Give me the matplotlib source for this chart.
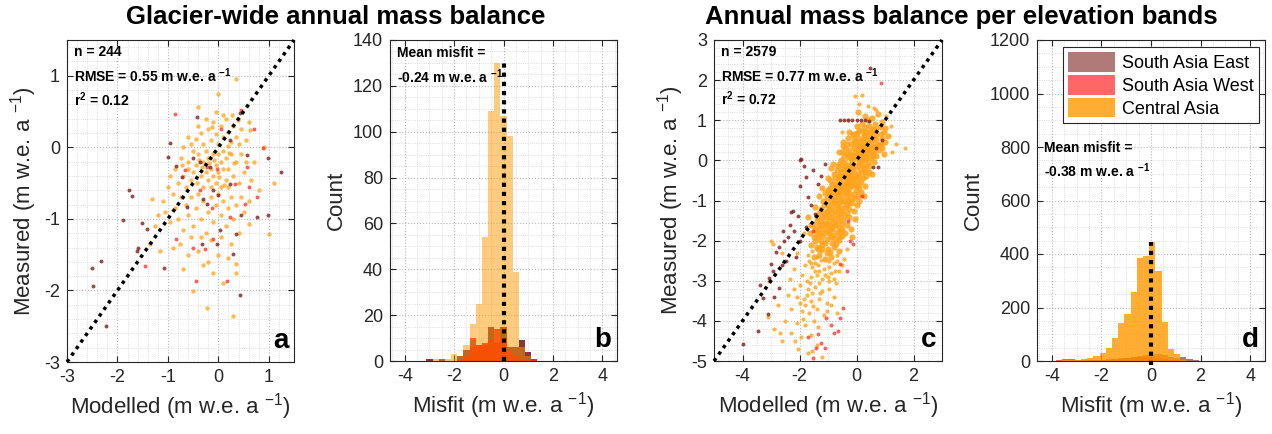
import numpy as np
import matplotlib
matplotlib.use('Agg')
import matplotlib.pyplot as plt
from matplotlib.ticker import MultipleLocator

plt.rcParams['font.family'] = ['Liberation Sans', 'DejaVu Sans']
plt.rcParams['mathtext.fontset'] = 'custom'
plt.rcParams['mathtext.rm'] = 'Liberation Sans'
plt.rcParams['mathtext.bf'] = 'Liberation Sans:bold'
plt.rcParams['mathtext.it'] = 'Liberation Sans:italic'
plt.rcParams['axes.unicode_minus'] = False

# ---------------- data ----------------
regions = ['South Asia East', 'South Asia West', 'Central Asia']

# panel a: glacier-wide (modelled, measured)
a_sae = [(-2.50,-1.68),(-2.48,-1.94),(-2.33,-1.59),(-2.23,-2.50),(-1.89,-1.01),(-1.77,-0.60),(-1.72,-0.68),
         (-1.62,-1.45),(-1.60,-1.40),(-1.52,-1.06),(-1.42,-1.14),(-1.07,-1.69),(-0.96,0.06),(-0.99,-0.13),
         (-0.83,-0.26),(-0.42,0.42),(-0.50,-0.15),(-0.36,-0.20),(-0.30,-0.72),(-0.23,-0.79),(-0.10,-0.60),
         (0.00,-0.67),(0.03,-1.16),(-0.03,-1.35),(-0.32,-1.35),(0.30,-1.49),(0.43,-2.06),(0.44,-0.95),
         (0.76,-0.98),(0.99,-0.95),(0.99,-0.15),(1.24,-0.34),(0.56,-0.11),(0.23,0.10),(0.43,0.48),
         (-0.17,-0.27),(-0.63,-0.84),(-0.73,-0.41),(0.23,-0.51),(0.36,-1.21)]
a_saw = [(-0.85,0.46),(-1.46,-1.66),(-0.44,-1.87),(0.17,-1.87),(-0.26,-1.42),(-0.50,-1.40),(-0.10,-1.28),
         (0.60,-0.55),(0.76,-0.69),(0.70,0.26),(0.89,-0.01),(0.45,0.52),(0.56,-0.27),(0.53,-0.79),
         (0.34,-0.51),(-0.03,-0.30),(-0.36,-0.60),(0.23,-0.98),(-0.23,-0.27),(-0.66,-0.32),(-0.83,-1.28),
         (0.05,0.25),(-0.12,-0.85)]
a_ca = [(-0.55,0.05),(-0.45,0.12),(-0.35,0.2),(-0.3,0.05),(-0.2,0.25),(-0.15,0.1),(-0.1,0.35),(-0.05,0.18),
        (0.0,0.05),(0.05,0.3),(0.1,0.15),(0.15,0.4),(0.2,0.22),(0.25,0.08),(0.3,0.3),(0.35,0.15),(0.4,0.05),
        (0.45,0.25),(-0.25,0.4),(-0.6,0.15),(-0.7,0.0),(-0.4,0.3),(0.1,0.45),(-0.05,0.5),(0.2,0.02),(0.55,0.1),
        (0.6,0.35),(-0.12,0.28),(0.28,0.45),(0.38,0.38),
        (-0.85,-0.3),(-0.8,-0.5),(-0.75,-0.15),(-0.7,-0.4),(-0.65,-0.55),(-0.6,-0.2),(-0.55,-0.45),(-0.5,-0.05),
        (-0.5,-0.35),(-0.45,-0.25),(-0.42,-0.5),(-0.4,-0.1),(-0.35,-0.4),(-0.3,-0.2),(-0.3,-0.55),(-0.25,-0.05),
        (-0.25,-0.35),(-0.2,-0.15),(-0.2,-0.45),(-0.15,-0.3),(-0.15,-0.55),(-0.1,-0.1),(-0.1,-0.4),(-0.05,-0.25),
        (-0.05,-0.5),(0.0,-0.1),(0.0,-0.35),(0.05,-0.2),(0.05,-0.55),(0.1,-0.05),(0.1,-0.3),(0.15,-0.45),
        (0.15,-0.15),(0.2,-0.3),(0.2,-0.55),(0.25,-0.1),(0.3,-0.4),(0.35,-0.2),(0.4,-0.5),(0.45,-0.1),(0.5,-0.35),
        (0.55,-0.2),(0.65,-0.45),(-0.95,-0.4),(-1.0,-0.55),(-0.33,-0.28),(-0.18,-0.22),(-0.08,-0.18),(0.02,-0.42),
        (0.12,-0.52),(-0.6,-0.3),(-0.38,-0.18),(0.22,-0.08),(0.32,-0.22),(-0.72,-0.25),
        (-1.1,-0.75),(-1.05,-0.9),(-0.9,-0.65),(-0.85,-0.85),(-0.8,-1.0),(-0.75,-0.7),(-0.7,-1.15),(-0.65,-0.8),
        (-0.6,-0.95),(-0.55,-0.7),(-0.5,-1.1),(-0.45,-0.85),(-0.4,-0.65),(-0.35,-1.0),(-0.3,-0.75),(-0.25,-1.2),
        (-0.2,-0.9),(-0.15,-0.7),(-0.1,-1.05),(-0.05,-0.8),(0.0,-0.65),(0.05,-0.95),(0.1,-0.75),(0.15,-1.1),
        (0.2,-0.85),(0.25,-0.7),(0.3,-1.0),(0.35,-0.8),(0.4,-1.2),(0.45,-0.7),(0.5,-0.9),(0.6,-0.75),
        (-0.95,-1.05),(-0.35,-1.25),(0.05,-1.25),(-0.15,-1.3),(0.25,-1.35),(-0.55,-1.25),(-1.2,-0.95),(-1.25,-1.1),
        (-0.9,-1.4),(-0.6,-1.5),(-0.4,-1.45),(-0.2,-1.6),(0.0,-1.5),(0.2,-1.55),(0.35,-1.75),(-0.1,-1.75),
        (-0.3,-1.65),(-0.5,-2.01),(-0.22,-2.24),(0.3,-2.36),(0.1,-1.9),(-0.7,-1.7),(0.36,-1.63),(-1.32,-0.72),
        (-1.36,-1.35),(-1.16,-1.45),(-0.76,-1.35),(0.6,-1.07),(1.01,-1.21),(0.63,0.24),(0.35,0.96),(0.0,0.74),
        (-0.4,0.56),(0.7,-0.2),(0.8,-0.6),(0.9,0.0),(1.1,-0.5)]

# panel c: per elevation band (modelled, measured)
c_sae = [(-2.0,0.0),(-1.94,0.04),(-2.0,-0.63),(-1.53,-0.25),(-1.76,-0.42),(-1.24,-0.38),(-2.24,-1.25),
         (-2.29,-1.29),(-2.06,-1.38),(-2.59,-1.75),(-2.41,-1.92),(-2.71,-2.17),(-2.82,-2.29),(-3.0,-2.58),
         (-2.94,-2.75),(-3.06,-2.92),(-3.29,-3.42),(-3.47,-4.25),(-4.0,-4.58),(-3.12,-3.83),(-2.71,-3.17),
         (-2.47,-2.5),(-2.18,-1.75),(-1.71,-0.92),(-1.47,-1.33),(-1.76,-1.67),(-2.0,-2.0),(-2.12,-2.42),
         (-0.59,1.0),(-0.45,1.0),(-0.3,1.0),(-0.15,1.0),(0.0,1.0),(0.15,1.0),(0.3,1.0),(0.45,0.98),
         (0.59,-0.17),(0.76,-0.17),(0.47,2.3),(0.9,0.5),(0.7,0.3),(-1.35,-0.6),(-1.6,-1.1),(-2.55,-2.0),
         (-2.35,-1.6),(-3.4,-3.1),(-2.9,-3.4),(-1.85,-0.15),(-1.1,-0.1),(-2.6,-2.6)]
c_saw = [(0.85,1.92),(-0.24,-2.0),(-0.59,-2.58),(-0.35,-2.75),(-0.47,-3.67),(-0.59,-3.92),(-1.06,-3.92),
         (-1.35,-4.33),(-1.41,-4.67),(-1.53,-4.92),(-1.24,-4.54),(-0.65,-4.25),(-0.12,-2.08),(-1.53,-1.75),
         (-1.12,-4.67),(-0.8,-4.3),(-0.3,-1.5),(0.2,-0.9),(-0.9,-4.1),(-1.7,-4.4)]
# Central Asia, dense band
c_ca_core = [
        (0.05,1.2),(0.3,1.1),(0.55,1.05),(0.75,1.15),(0.9,0.95),(0.2,0.9),(0.45,0.85),(0.65,0.9),(1.0,0.8),
        (0.1,0.75),(0.35,0.7),(0.6,0.72),(0.85,0.65),(-0.1,0.65),(0.25,0.62),(0.5,0.6),(1.1,0.6),
        (-0.3,0.55),(-0.1,0.5),(0.05,0.55),(0.2,0.5),(0.35,0.52),(0.5,0.45),(0.7,0.5),(0.85,0.42),(-0.2,0.4),
        (0.0,0.38),(0.15,0.35),(0.3,0.4),(0.45,0.3),(0.6,0.35),(0.8,0.25),(-0.4,0.3),(-0.25,0.25),(-0.05,0.2),
        (0.1,0.22),(0.25,0.18),(0.4,0.15),(0.55,0.2),(0.7,0.1),(-0.45,0.12),(-0.3,0.08),(-0.15,0.1),(0.0,0.05),
        (0.15,0.02),(0.3,0.0),(0.5,0.05),(0.95,0.15),(1.0,0.45),(-0.55,0.0),(0.2,0.28),(0.38,0.25),(-0.1,0.3),
        (0.62,0.55),(0.12,0.45),
        (-0.6,-0.1),(-0.45,-0.05),(-0.3,-0.12),(-0.15,-0.08),(0.0,-0.15),(0.15,-0.1),(0.3,-0.2),(0.45,-0.15),
        (-0.7,-0.25),(-0.55,-0.3),(-0.4,-0.22),(-0.25,-0.28),(-0.1,-0.3),(0.05,-0.35),(0.2,-0.3),(0.35,-0.4),
        (-0.75,-0.45),(-0.6,-0.5),(-0.45,-0.4),(-0.3,-0.45),(-0.15,-0.5),(0.0,-0.48),(0.15,-0.55),(-0.85,-0.6),
        (-0.7,-0.62),(-0.5,-0.58),(-0.35,-0.6),(-0.2,-0.65),(-0.05,-0.62),(0.1,-0.7),(0.55,-0.35),(0.6,-0.05),
        (-0.9,-0.2),(-0.2,-0.18),(-0.38,-0.35),(0.1,-0.42),
        (-1.0,-0.75),(-0.85,-0.78),(-0.7,-0.8),(-0.55,-0.75),(-0.4,-0.8),(-0.25,-0.82),(-0.1,-0.85),(0.05,-0.9),
        (-1.05,-0.95),(-0.9,-0.92),(-0.75,-0.98),(-0.6,-0.95),(-0.45,-1.0),(-0.3,-0.98),(-0.15,-1.05),(0.0,-1.1),
        (-1.15,-1.1),(-1.0,-1.12),(-0.85,-1.15),(-0.7,-1.1),(-0.55,-1.18),(-0.4,-1.15),(-0.25,-1.2),(-0.1,-1.25),
        (-1.3,-0.9),(-0.65,-0.85),(0.15,-0.8),(-0.35,-0.9),(-0.8,-1.05),(-0.5,-0.88),
        (-1.3,-1.3),(-1.15,-1.3),(-1.0,-1.35),(-0.85,-1.3),(-0.7,-1.35),(-0.55,-1.3),(-0.4,-1.38),(-0.25,-1.4),
        (-1.4,-1.5),(-1.25,-1.5),(-1.1,-1.55),(-0.95,-1.5),(-0.8,-1.55),(-0.65,-1.5),(-0.5,-1.58),(-0.35,-1.6),
        (-1.45,-1.7),(-1.3,-1.72),(-1.15,-1.7),(-1.0,-1.75),(-0.85,-1.72),(-0.7,-1.78),(-0.55,-1.75),(-0.4,-1.8),
        (-1.5,-1.9),(-1.35,-1.92),(-1.2,-1.88),(-1.05,-1.95),(-0.9,-1.9),(-0.75,-1.95),(-0.6,-1.98),(-0.2,-1.7),
        (-1.6,-1.6),(-0.95,-1.62),(-1.22,-1.42),(-0.62,-1.65),
        (-1.6,-2.1),(-1.4,-2.15),(-1.2,-2.1),(-1.0,-2.2),(-0.8,-2.15),(-0.6,-2.25),(-1.5,-2.4),
        (-1.3,-2.35),(-1.1,-2.45),(-0.9,-2.4),
        (-0.05,0.45),(0.08,0.32),(0.28,0.35),(0.42,0.42),(0.18,0.12),(-0.22,0.15),(0.35,0.08),(0.62,0.22),
        (-0.35,0.18),(0.05,0.15),(0.48,0.55),(0.25,0.58),(-0.15,-0.02),(0.08,-0.05),(-0.42,-0.15),(-0.28,-0.38),
        (-0.05,-0.38),(0.25,-0.15),(-0.52,-0.45),(-0.18,-0.38),(-0.65,-0.4),(-0.4,-0.7),(-0.25,-0.55),(-0.58,-0.65),
        (-0.8,-0.9),(-0.95,-0.85),(-0.62,-1.05),(-0.35,-1.08),(-0.2,-0.95),(-0.5,-1.25),(-0.75,-1.25),(-1.05,-1.25),
        (-0.9,-1.42),(-0.6,-1.42),(-0.75,-1.62),(-1.05,-1.62),(-1.3,-1.62),(-1.15,-1.82),(-0.95,-1.82),(-0.6,-1.88),
        (-1.4,-1.8),(-1.25,-2.02),(-0.85,-2.05),(-1.05,-2.3),(-1.35,-2.22),
        (0.7,0.62),(0.9,0.55),(0.78,0.38),(0.55,0.78),(0.3,0.82),(0.0,0.85),(0.42,1.0),
        (-0.25,0.7),(-0.48,0.45),(-0.62,0.2),(-0.82,-0.1),(-1.0,-0.45),(-1.2,-0.7),(-1.45,-1.15),(-1.7,-1.4),
        (0.3,-0.65),(0.25,-0.9),(0.1,-1.0),(-0.05,-1.45),(-0.15,-1.9),
        (-0.48,0.35),(-0.35,0.42),(-0.12,0.62),(0.02,0.68),(0.18,0.72),(0.32,0.68),(0.48,0.7),(0.66,0.78),
        (0.82,0.82),(0.95,0.7),(-0.5,0.22),(-0.18,0.05),(0.27,0.25),(0.52,0.32),(0.72,0.38),(0.88,0.3),
        (0.42,-0.05),(0.58,0.12),(0.12,0.08),(-0.08,0.12),(-0.65,-0.15),(-0.48,-0.18),(-0.12,-0.2),(0.12,-0.22),
        (0.3,-0.3),(0.45,-0.3),(-0.8,-0.35),(-0.58,-0.38),(-0.32,-0.52),(-0.08,-0.45),(0.22,-0.45),(-0.92,-0.5),
        (-0.78,-0.58),(-0.42,-0.58),(-0.12,-0.58),(0.05,-0.62),(-0.92,-0.68),(-0.72,-0.7),(-0.48,-0.68),
        (-0.28,-0.7),(-0.02,-0.75),(-1.12,-0.82),(-0.95,-0.78),(-0.62,-0.78),(-0.32,-0.8),(-0.08,-0.95),
        (-1.18,-1.0),(-0.88,-1.02),(-0.52,-1.02),(-0.25,-1.05),(-1.25,-1.2),(-0.95,-1.2),(-0.65,-1.22),
        (-0.32,-1.3),(-1.38,-1.4),(-1.08,-1.42),(-0.78,-1.45),(-0.48,-1.48),(-1.52,-1.6),(-1.2,-1.62),
        (-0.88,-1.68),(-0.5,-1.7),(-1.62,-1.8),(-1.3,-1.82),(-0.82,-1.85),(-0.5,-1.88),(-1.45,-2.0),(-1.12,-2.05),
        (-0.72,-2.08),(-1.2,-2.22),(-0.92,-2.28)]
# Central Asia, scattered points around the band
c_ca_sparse = [
        (-0.05,1.6),(0.21,1.63),(0.1,1.4),(0.6,1.3),(1.4,0.4),(1.7,0.3),(1.25,0.2),(1.2,0.85),(1.05,1.1),
        (0.7,1.25),(0.4,1.35),(-0.3,1.0),(-0.5,0.7),(-1.85,-1.8),(-0.35,-2.2),(-0.45,-2.45),(-0.6,-2.75),
        (-1.7,-2.35),(-0.7,-2.5),(-1.8,-2.6),(-1.55,-2.65),(-1.35,-2.6),(-1.15,-2.7),
        (-0.95,-2.65),(-0.75,-2.75),(-1.9,-2.85),(-1.6,-2.9),(-1.4,-2.85),(-1.2,-2.95),(-1.0,-2.9),(-0.8,-2.95),
        (-2.1,-2.3),(-0.5,-2.6),(-1.25,-2.25),(-1.45,-2.55),(-0.95,-2.52),(-1.25,-2.48),(-1.6,-2.55),
        (-1.1,-2.85),(-1.45,-2.75),(-1.55,-2.25),(-0.7,-2.35),(-1.4,-2.42),(-0.8,-2.55),
        (-1.68,-2.5),(-1.32,-2.75),(-0.88,-2.8),(-1.75,-3.0),(-1.3,-3.05),(-0.72,-3.05),(-1.55,-3.3),
        (-0.9,-3.6),(-1.8,-3.6),
        (-2.0,-3.1),(-1.7,-3.2),(-1.45,-3.15),(-1.2,-3.25),(-0.95,-3.2),(-2.1,-3.4),(-1.85,-3.45),(-1.6,-3.5),
        (-1.3,-3.45),(-1.05,-3.55),(-2.3,-3.7),(-1.9,-3.75),(-1.65,-3.8),(-1.4,-3.7),(-1.15,-3.85),(-2.5,-4.0),
        (-2.1,-4.05),(-1.8,-4.1),(-1.5,-4.0),(-2.3,-4.3),(-1.95,-4.4),(-1.6,-4.35),(-2.05,-4.7),(-1.7,-4.8),
        (-1.4,-4.6),(-2.9,-4.2),(-2.6,-4.5),(-1.2,-4.9),(-3.1,-3.9),(-0.8,-3.4),(-0.7,-3.8),(-2.75,-3.6),
        (-3.0,-2.0),(-2.6,-2.3),(-2.2,-2.7),(-2.94,-2.08),(-3.06,-3.0),(-2.7,-4.3),
        (-1.72,-3.35),(-1.52,-3.62),(-1.28,-3.3),(-2.0,-3.55),(-1.88,-3.95),(-1.35,-4.15),(-2.2,-3.2),
        (-0.98,-3.0),(-1.62,-3.05),(-2.42,-3.35),(-2.15,-4.5),(-1.55,-4.75),(-2.35,-2.95),(-1.05,-3.75)]

# panel b: misfit histogram (glacier-wide), bin centres and counts
b_centers = [-3.0, -2.75, -2.5, -2.25, -2.0, -1.75, -1.5, -1.25, -1.0, -0.75, -0.5, -0.25,
             0.0, 0.25, 0.5, 0.75, 1.0, 1.25]
b_sae = [1, 0, 1, 0, 0, 2, 5, 6, 7, 7, 15, 8, 15, 6, 6, 9, 4, 0]
b_saw = [0, 0, 0, 0, 0, 1, 2, 10, 7, 8, 9, 14, 10, 4, 2, 1, 1, 1]
b_ca = [0, 1, 1, 1, 3, 2, 7, 16, 25, 54, 109, 130, 107, 98, 39, 6, 2, 0]

# panel d: misfit histogram (elevation bands)
d_centers = [-3.95, -3.70, -3.45, -3.20, -2.95, -2.70, -2.45, -2.20, -1.95, -1.70, -1.45, -1.20,
             -0.95, -0.70, -0.45, -0.20, 0.05, 0.30, 0.55, 0.80, 1.05, 1.30, 1.55, 1.80]
d_sae = [0, 0, 1, 1, 1, 1, 2, 2, 3, 4, 6, 8, 12, 15, 18, 22, 25, 26, 24, 16, 10, 14, 6, 3]
d_saw = [1, 3, 8, 8, 5, 3, 3, 4, 5, 6, 8, 10, 12, 14, 16, 16, 14, 10, 6, 4, 2, 1, 0, 0]
d_ca = [0, 1, 2, 2, 4, 6, 10, 19, 29, 50, 87, 141, 175, 257, 384, 392, 444, 338, 145, 45, 26, 4, 1, 0]

stats_a = ['n = 244', r'RMSE = 0.55 m w.e. a $^{\mathbf{-1}}$', r'r$^{\mathbf{2}}$ = 0.12']
stats_c = ['n = 2579', r'RMSE = 0.77 m w.e. a $^{\mathbf{-1}}$', r'r$^{\mathbf{2}}$ = 0.72']
misfit_b = ['Mean misfit =', r'-0.24 m w.e. a $^{\mathbf{-1}}$']
misfit_d = ['Mean misfit =', r'-0.38 m w.e. a $^{\mathbf{-1}}$']

# ---------------- style ----------------
C_SAE = (0.48, 0.13, 0.12)
C_SAW = (1.0, 0.0, 0.0)
C_CA = (1.0, 0.6, 0.0)
DOT_SAE = '#7B211E'
DOT_SAW = '#FF2A2A'
DOT_CA = '#FFA31A'

fig = plt.figure(figsize=(12.72, 4.34), dpi=100)
W, H = 1272.0, 434.0

def add_ax(l, r, t, b):
    return fig.add_axes([l / W, 1 - b / H, (r - l) / W, (b - t) / H])

ax_a = add_ax(67, 294, 40, 362)
ax_b = add_ax(390, 617, 40, 361)
ax_c = add_ax(714, 942, 40, 361)
ax_d = add_ax(1037, 1265, 40, 361)

def style(ax, xmaj, xmin, ymaj, ymin):
    ax.xaxis.set_major_locator(MultipleLocator(xmaj))
    ax.xaxis.set_minor_locator(MultipleLocator(xmin))
    ax.yaxis.set_major_locator(MultipleLocator(ymaj))
    ax.yaxis.set_minor_locator(MultipleLocator(ymin))
    ax.grid(which='major', color='#b8b8b8', ls=':', lw=0.8)
    ax.grid(which='minor', color='#d4d4d4', ls=':', lw=0.6)
    ax.set_axisbelow(True)
    ax.tick_params(which='major', direction='in', length=4, width=0.8, top=True, right=True,
                   labelsize=13, colors='#262626', pad=5)
    ax.tick_params(which='minor', length=0)
    for s in ax.spines.values():
        s.set_color('#262626')
        s.set_linewidth(0.8)

lab_fs = 16
xl = r'Modelled (m w.e. a $^{-1}$)'
yl = r'Measured (m w.e. a $^{-1}$)'
ml = r'Misfit (m w.e. a $^{-1}$)'

def dots(ax, pts, col, al, ms):
    arr = np.array(pts)
    ax.scatter(arr[:, 0], arr[:, 1], s=ms, c=col, alpha=al, linewidths=0, zorder=3)

def one_to_one(ax, lim):
    ax.plot(lim, lim, ls=(0, (1, 1.3)), color='k', lw=2.5, zorder=4, clip_on=False)
    ax.set_xlim(lim)
    ax.set_ylim(lim)

# panel a
dots(ax_a, a_ca, DOT_CA, 0.75, 10)
dots(ax_a, a_saw, DOT_SAW, 0.75, 8)
dots(ax_a, a_sae, DOT_SAE, 0.8, 8)
one_to_one(ax_a, [-3, 1.5])
style(ax_a, 1, 0.2, 1, 0.2)
ax_a.set_xlabel(xl, fontsize=lab_fs, color='#262626')
ax_a.set_ylabel(yl, fontsize=lab_fs, color='#262626')
for i, t in enumerate(stats_a):
    ax_a.text(0.03, 0.962 - 0.073 * i, t, transform=ax_a.transAxes, fontsize=10, fontweight='bold',
              va='center', ha='left', zorder=6)
ax_a.text(0.975, 0.025, 'a', transform=ax_a.transAxes, fontsize=20, fontweight='bold', ha='right', va='bottom')

# panel c
dots(ax_c, c_ca_sparse, DOT_CA, 0.8, 9)
dots(ax_c, c_ca_core, DOT_CA, 0.85, 20)
dots(ax_c, c_saw, DOT_SAW, 0.75, 8)
dots(ax_c, c_sae, DOT_SAE, 0.8, 8)
one_to_one(ax_c, [-5, 3])
style(ax_c, 2, 0.5, 1, 0.2)
ax_c.set_xlabel(xl, fontsize=lab_fs, color='#262626')
ax_c.set_ylabel(yl, fontsize=lab_fs, color='#262626')
for i, t in enumerate(stats_c):
    ax_c.text(0.03, 0.962 - 0.073 * i, t, transform=ax_c.transAxes, fontsize=10, fontweight='bold',
              va='center', ha='left', zorder=6)
ax_c.text(0.975, 0.025, 'c', transform=ax_c.transAxes, fontsize=20, fontweight='bold', ha='right', va='bottom')

# panel b
ax_b.bar(b_centers, b_sae, width=0.25, color=C_SAE, alpha=0.9, linewidth=0, zorder=2)
ax_b.bar(b_centers, b_saw, width=0.25, color=C_SAW, alpha=0.85, linewidth=0, zorder=2)
ax_b.bar(b_centers, b_ca, width=0.25, color=C_CA, alpha=0.5, linewidth=0, zorder=2)
ax_b.plot([0, 0], [0, max(b_ca)], ls=(0, (1, 1.2)), color='k', lw=3, zorder=5)
ax_b.set_xlim(-4.6, 4.6)
ax_b.set_ylim(0, 140)
style(ax_b, 2, 0.5, 20, 5)
ax_b.set_xlabel(ml, fontsize=lab_fs, color='#262626')
ax_b.set_ylabel('Count', fontsize=lab_fs, color='#262626')
ax_b.text(0.03, 0.958, misfit_b[0], transform=ax_b.transAxes, fontsize=10, fontweight='bold', va='center')
ax_b.text(0.03, 0.885, misfit_b[1], transform=ax_b.transAxes, fontsize=10, fontweight='bold', va='center')
ax_b.text(0.975, 0.025, 'b', transform=ax_b.transAxes, fontsize=20, fontweight='bold', ha='right', va='bottom')

# panel d
h1 = ax_d.bar(d_centers, d_sae, width=0.25, color=C_SAE, alpha=0.6, linewidth=0, zorder=2, label=regions[0])
h2 = ax_d.bar(d_centers, d_saw, width=0.25, color=C_SAW, alpha=0.6, linewidth=0, zorder=2, label=regions[1])
h3 = ax_d.bar(d_centers, d_ca, width=0.25, color=C_CA, alpha=0.8, linewidth=0, zorder=2, label=regions[2])
ax_d.plot([0, 0], [-15, max(d_ca)], ls=(0, (1, 1.2)), color='k', lw=3, zorder=5, clip_on=False)
ax_d.set_xlim(-4.6, 4.6)
ax_d.set_ylim(0, 1200)
style(ax_d, 2, 0.5, 200, 50)
ax_d.set_xlabel(ml, fontsize=lab_fs, color='#262626')
ax_d.set_ylabel('Count', fontsize=lab_fs, color='#262626')
ax_d.text(0.03, 0.664, misfit_d[0], transform=ax_d.transAxes, fontsize=10, fontweight='bold', va='center')
ax_d.text(0.03, 0.594, misfit_d[1], transform=ax_d.transAxes, fontsize=10, fontweight='bold', va='center')
ax_d.text(0.975, 0.025, 'd', transform=ax_d.transAxes, fontsize=20, fontweight='bold', ha='right', va='bottom')
leg = ax_d.legend(handles=[h1, h2, h3], loc='upper right', bbox_to_anchor=(0.975, 0.978), fontsize=13,
                  frameon=True, fancybox=False, edgecolor='#262626', framealpha=1, borderaxespad=0,
                  handlelength=2.6, handleheight=1.3, handletextpad=0.4, labelspacing=0.15, borderpad=0.3)
leg.get_frame().set_linewidth(0.8)

fig.text(336 / W, 1 - 17 / H, 'Glacier-wide annual mass balance', fontsize=18.5, fontweight='bold',
         ha='center', va='center')
fig.text(961 / W, 1 - 17 / H, 'Annual mass balance per elevation bands', fontsize=18.5, fontweight='bold',
         ha='center', va='center')

fig.savefig('out.png', dpi=100)
